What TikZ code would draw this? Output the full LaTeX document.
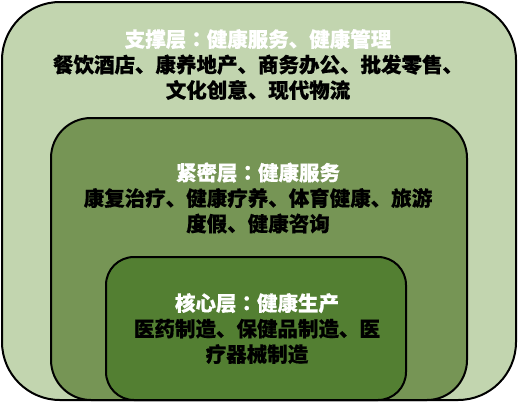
\documentclass[tikz,border=0pt]{standalone}
\usepackage{fontspec}
\setmainfont{Noto Sans CJK SC}[BoldFeatures={FakeBold=0.6}]
\newfontfamily\tcfont{Noto Sans CJK TC}[BoldFeatures={FakeBold=0.6}]
\newcommand{\fwcolon}{{\tcfont\bfseries ：}}
\definecolor{outerg}{RGB}{194,213,175}
\definecolor{midg}{RGB}{118,149,85}
\definecolor{innerg}{RGB}{83,127,50}
\begin{document}
\begin{tikzpicture}[x=1pt,y=-1pt,
  layer/.style={draw=black,line width=2pt,rounded corners=#1,inner sep=0pt},
  txt/.style={align=center,font=\fontsize{20.5pt}{25.5pt}\selectfont\bfseries,text=black,inner sep=0pt}]
\useasboundingbox (0,0) rectangle (518,402);
\node[layer=58pt,fill=outerg,minimum width=514pt,minimum height=398pt] (outer) at (259,201) {};
\node[layer=40pt,fill=midg,minimum width=416pt,minimum height=282pt] (middle) at (259,259) {};
\node[layer=28pt,fill=innerg,minimum width=300pt,minimum height=143pt] (inner) at (256,328.5) {};
\node[txt] (outertext) at (258,64.5) {{\color{white}支撑层\fwcolon 健康服务、健康管理}\\餐饮酒店、康养地产、商务办公、批发零售、\\文化创意、现代物流};
\node[txt] (midtext) at (258,198) {{\color{white}紧密层\fwcolon 健康服务}\\康复治疗、健康疗养、体育健康、旅游\\度假、健康咨询};
\node[txt] (innertext) at (257,328.5) {{\color{white}核心层\fwcolon 健康生产}\\医药制造、保健品制造、医\\疗器械制造};
\end{tikzpicture}
\end{document}
